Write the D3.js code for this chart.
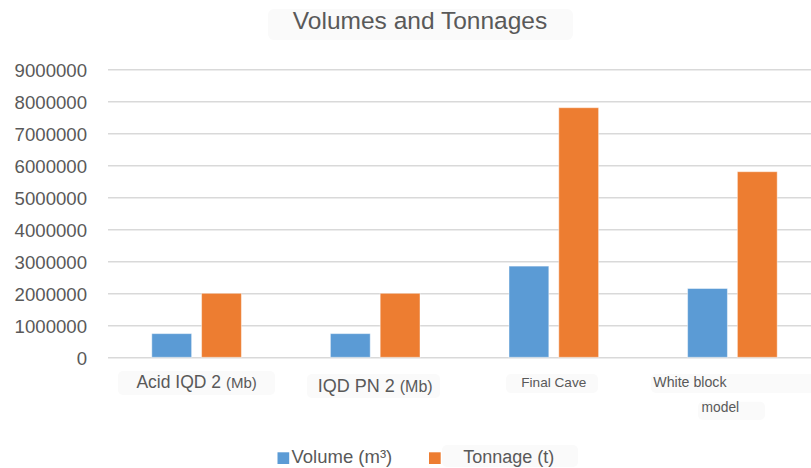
<!DOCTYPE html>
<html>
<head>
<meta charset="utf-8">
<script src="https://cdn.jsdelivr.net/npm/d3@7"></script>
<style>
  html, body { margin: 0; padding: 0; background: #fff; }
  svg { display: block; font-family: "Liberation Sans", Arial, sans-serif; }
</style>
</head>
<body>
<svg id="chart" width="811" height="468"></svg>
<script>
// ---- data ----
const categories = ["Acid IQD 2 (Mb)", "IQD PN 2 (Mb)", "Final Cave", "White block model"];
const seriesNames = ["Volume (m³)", "Tonnage (t)"];
const volume = [740000, 740000, 2850000, 2150000];
const tonnage = [2000000, 2000000, 7800000, 5800000];
const yTicks = [0, 1000000, 2000000, 3000000, 4000000, 5000000, 6000000, 7000000, 8000000, 9000000];
const titleText = "Volumes and Tonnages";

// ---- layout ----
const W = 811, H = 468;
const colors = ["#5B9BD5", "#ED7D31"];
const textColor = "#595959";
const boxFill = "#fafafa";
const svg = d3.select("#chart");

const x = d3.scaleBand().domain(categories).range([107.3, 821.7]).padding(0);
const xs = d3.scaleBand().domain(seriesNames).range([-44.8, 44.8]).paddingInner(0.2).paddingOuter(0);
const y = d3.scaleLinear().domain([0, 9000000]).range([357.3, 69.3]);

// title
svg.append("rect").attr("x", 268).attr("y", 9).attr("width", 305).attr("height", 31)
  .attr("rx", 6).attr("fill", boxFill);
svg.append("text").attr("x", 420).attr("y", 29).attr("text-anchor", "middle")
  .attr("font-size", 24.5).attr("fill", textColor).text(titleText);

// gridlines
const grid = svg.append("g").attr("transform", "translate(108,0)")
  .call(d3.axisLeft(y).tickValues(yTicks).tickSize(-(W - 108)).tickFormat(""));
grid.select(".domain").remove();
grid.selectAll(".tick line").attr("stroke", "#d9d9d9").attr("stroke-width", 1.4);

// y tick labels
const yAxis = svg.append("g").attr("transform", "translate(87,0)")
  .call(d3.axisLeft(y).tickValues(yTicks).tickSize(0).tickPadding(0).tickFormat(d3.format("d")));
yAxis.select(".domain").remove();
yAxis.selectAll("text").attr("font-size", 18.6).attr("fill", textColor)
  .attr("font-family", "'Liberation Sans', Arial, sans-serif").attr("dy", "0.36em");

// bars
const rows = categories.map((c, i) => ({ cat: c, vals: [volume[i], tonnage[i]] }));
const groups = svg.append("g").selectAll("g").data(rows).join("g")
  .attr("transform", d => `translate(${x(d.cat) + x.bandwidth() / 2},0)`);
groups.selectAll("rect").data(d => d.vals.map((v, j) => ({ s: seriesNames[j], v, j }))).join("rect")
  .attr("x", d => xs(d.s))
  .attr("width", xs.bandwidth())
  .attr("y", d => y(d.v))
  .attr("height", d => y(0) - y(d.v))
  .attr("fill", d => colors[d.j])
  .attr("stroke", "#ffffff").attr("stroke-opacity", 0.45).attr("stroke-width", 1);

// x labels (each label has its own look in the reference)
const labelStyle = [
  { box: [118, 371, 157, 24], lines: [{ dx: 0, dy: 388, parts: [["Acid IQD 2 ", 17.5], ["(Mb)", 15]] }] },
  { box: [307, 374, 133, 24], lines: [{ dx: 0, dy: 391.5, parts: [["IQD PN 2 ", 18], ["(Mb)", 16]] }] },
  { box: [506, 374, 92, 19], lines: [{ dx: 0, dy: 386.7, parts: [["Final Cave", 13.6]] }] },
  { box: [651, 374, 165, 19], box2: [698, 401.7, 67, 18.3],
    lines: [{ dx: -42.5, dy: 386.7, parts: [["White block", 14.2]] },
            { dx: -12, dy: 411.7, parts: [["model", 13.8]] }] }
];
categories.forEach((c, i) => {
  const st = labelStyle[i];
  const cx = x(c) + x.bandwidth() / 2;
  svg.append("rect").attr("x", st.box[0]).attr("y", st.box[1]).attr("width", st.box[2]).attr("height", st.box[3])
    .attr("rx", 5).attr("fill", boxFill);
  if (st.box2) svg.append("rect").attr("x", st.box2[0]).attr("y", st.box2[1]).attr("width", st.box2[2]).attr("height", st.box2[3])
    .attr("rx", 5).attr("fill", boxFill);
  st.lines.forEach(L => {
    const t = svg.append("text").attr("x", cx + L.dx).attr("y", L.dy).attr("text-anchor", "middle").attr("fill", textColor);
    L.parts.forEach(p => t.append("tspan").attr("font-size", p[1]).text(p[0]));
  });
});

// legend
svg.append("rect").attr("x", 442).attr("y", 445).attr("width", 136).attr("height", 22).attr("rx", 5).attr("fill", boxFill);
const legendPos = [{ sx: 277.5, tx: 291.5, fs: 18.5 }, { sx: 429, tx: 463.3, fs: 18 }];
seriesNames.forEach((s, j) => {
  svg.append("rect").attr("x", legendPos[j].sx).attr("y", 452.3).attr("width", 11.7).attr("height", 11.7).attr("fill", colors[j]);
  svg.append("text").attr("x", legendPos[j].tx).attr("y", 463.3).attr("font-size", legendPos[j].fs)
    .attr("fill", textColor).text(s);
});
</script>
</body>
</html>
